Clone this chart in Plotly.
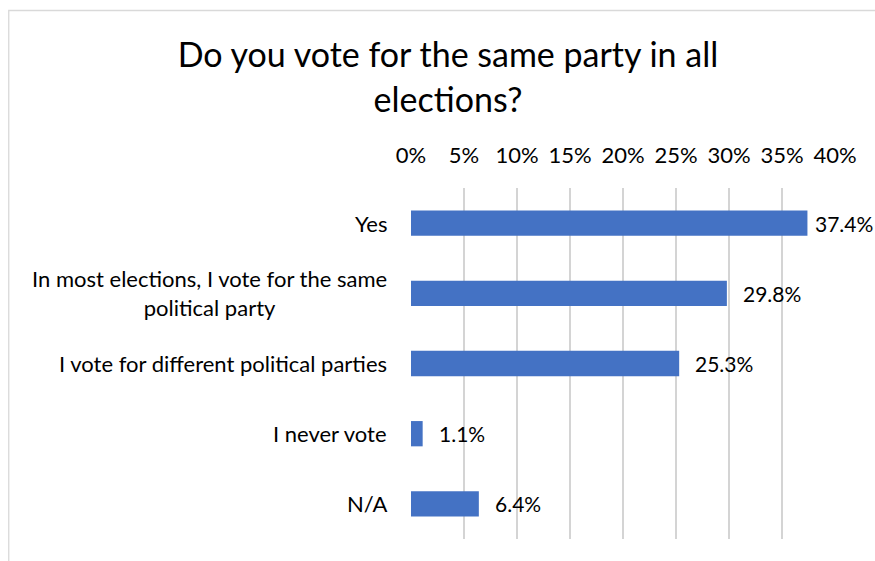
import plotly.graph_objects as go

# Survey answers and their shares (%)
categories = [
    "Yes",
    "In most elections, I vote for the same<br>political party",
    "I vote for different political parties",
    "I never vote",
    "N/A",
]
shares = [37.4, 29.8, 25.3, 1.1, 6.4]
tick_values = [0, 5, 10, 15, 20, 25, 30, 35, 40]
tick_labels = [f"{v}%" for v in tick_values]
label_offsets = [6, 14, 14, 14, 14]

FONT = "Lato"
BAR_COLOR = "#4472C4"
TEXT_SIZE = 22

fig = go.Figure(
    go.Bar(
        x=shares,
        y=categories,
        orientation="h",
        marker=dict(color=BAR_COLOR, line=dict(width=0)),
        width=0.36,
        hoverinfo="skip",
    )
)

# Value labels next to the bar ends
for cat, val, off in zip(categories, shares, label_offsets):
    fig.add_annotation(
        x=val, y=cat, xref="x", yref="y",
        text=f"{val:.1f}%", showarrow=False,
        xanchor="left", yanchor="middle", xshift=off,
        font=dict(family=FONT, size=21, color="#000000"),
    )

# Category labels, centred line by line, to the left of the axis
for cat in categories:
    fig.add_annotation(
        x=0, y=cat, xref="paper", yref="y",
        text=cat, showarrow=False,
        xanchor="right", yanchor="middle", xshift=-22,
        align="center",
        font=dict(family=FONT, size=TEXT_SIZE, color="#000000"),
    )

# Chart frame
fig.add_shape(
    type="rect", xref="paper", yref="paper",
    x0=-0.9487, x1=2.0, y0=-1.0, y1=1.5057,
    line=dict(color="#D9D9D9", width=1.3), fillcolor="rgba(0,0,0,0)",
    layer="below",
)

fig.update_layout(
    width=875, height=561,
    margin=dict(l=411, r=40, t=188, b=22, pad=0),
    paper_bgcolor="white", plot_bgcolor="white",
    showlegend=False,
    title=dict(
        text="Do you vote for the same party in all<br>elections?",
        x=0.512, xanchor="center", y=0.88, yanchor="top",
        font=dict(family=FONT, size=34, color="#000000"),
    ),
    xaxis=dict(
        range=[0, 40], side="top",
        tickvals=tick_values, ticktext=tick_labels,
        showgrid=True, gridcolor="#D4D4D4", gridwidth=1.5,
        zeroline=False, showline=False, ticks="",
        ticklabelstandoff=20,
        tickfont=dict(family=FONT, size=TEXT_SIZE, color="#000000"),
        fixedrange=True,
    ),
    yaxis=dict(
        autorange="reversed", categoryorder="array", categoryarray=categories,
        showticklabels=False, showgrid=False, zeroline=False, showline=False,
        ticks="", fixedrange=True,
    ),
)

fig.write_html("out.html")
